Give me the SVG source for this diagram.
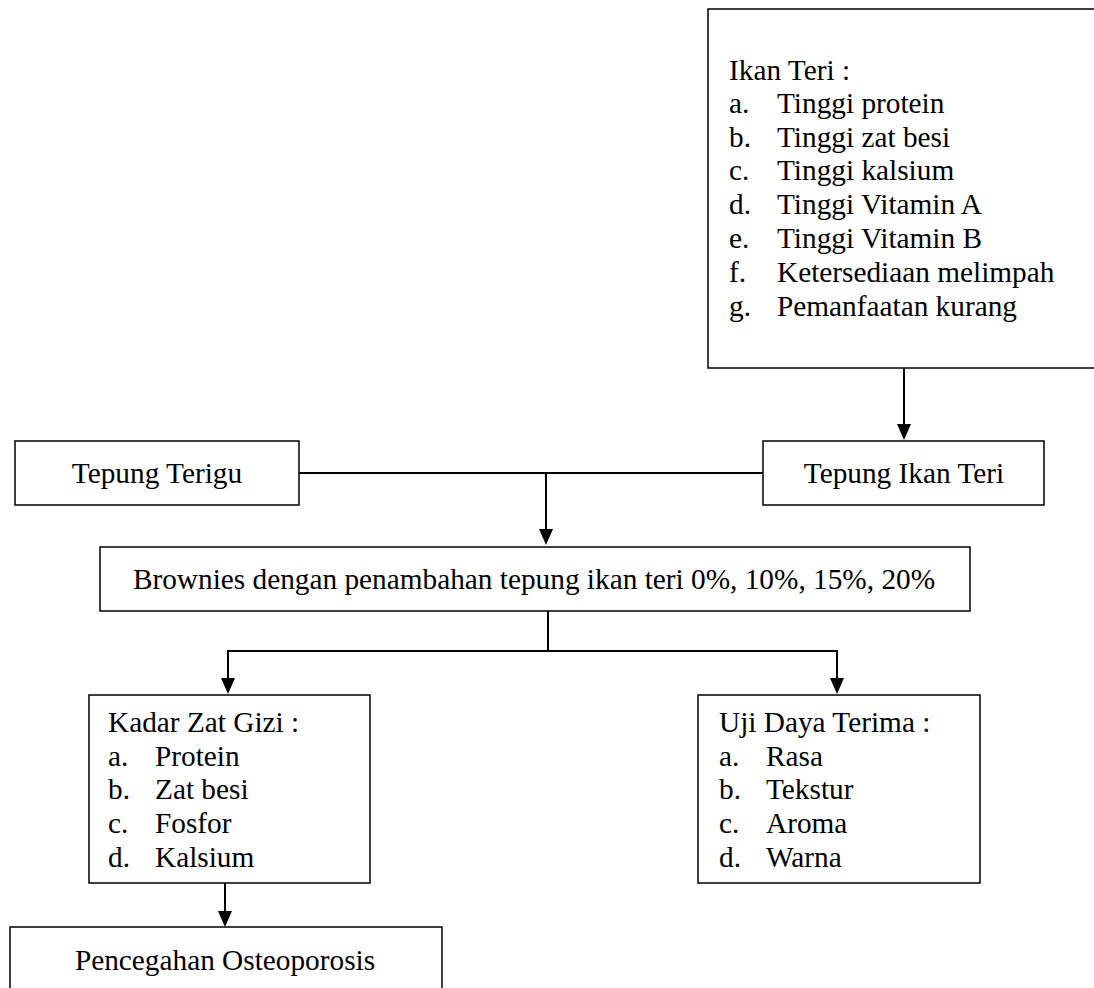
<svg xmlns="http://www.w3.org/2000/svg" width="1094" height="988" viewBox="0 0 1094 988">
<defs>
<style>
.box{fill:#fff;stroke:#000;stroke-width:1.5}
.t{font-size:29.3px;fill:#000}
.c{text-anchor:middle}
.ln{fill:none;stroke:#000;stroke-width:2}
</style>
</defs>
<rect width="1094" height="988" fill="#fff"/>
<g id="connectors">
<line class="ln" x1="904" y1="368" x2="904" y2="425"/>
<line class="ln" x1="299" y1="473" x2="763" y2="473"/>
<line class="ln" x1="546" y1="473" x2="546" y2="530"/>
<line class="ln" x1="548" y1="611" x2="548" y2="651"/>
<polyline class="ln" points="228,679 228,651 837,651 837,679"/>
<line class="ln" x1="225" y1="883" x2="225" y2="912"/>
<path d="M897,424 L911,424 L904,440 Z"/>
<path d="M539,529 L553,529 L546,545 Z"/>
<path d="M221,678 L235,678 L228,694 Z"/>
<path d="M830,678 L844,678 L837,694 Z"/>
<path d="M218,911 L232,911 L225,927 Z"/>
</g>
<g font-family="Liberation Serif, DejaVu Serif, serif">
<g id="ikan-teri">
<rect class="box" x="708" y="9" width="400" height="359"/>
<text class="t" x="729" y="80">Ikan Teri :</text>
<text class="t" x="729" y="113">a.</text><text class="t" x="777" y="113">Tinggi protein</text>
<text class="t" x="729" y="147">b.</text><text class="t" x="777" y="147">Tinggi zat besi</text>
<text class="t" x="729" y="180">c.</text><text class="t" x="777" y="180">Tinggi kalsium</text>
<text class="t" x="729" y="214">d.</text><text class="t" x="777" y="214">Tinggi Vitamin A</text>
<text class="t" x="729" y="248">e.</text><text class="t" x="777" y="248">Tinggi Vitamin B</text>
<text class="t" x="729" y="282">f.</text><text class="t" x="777" y="282">Ketersediaan melimpah</text>
<text class="t" x="729" y="316">g.</text><text class="t" x="777" y="316">Pemanfaatan kurang</text>
</g>
<g id="tepung-terigu">
<rect class="box" x="15" y="441" width="284" height="64"/>
<text class="t c" x="157" y="483">Tepung Terigu</text>
</g>
<g id="tepung-ikan-teri">
<rect class="box" x="763" y="441" width="281" height="64"/>
<text class="t c" x="904" y="483">Tepung Ikan Teri</text>
</g>
<g id="brownies">
<rect class="box" x="100" y="547" width="870" height="64"/>
<text class="t c" x="534" y="589">Brownies dengan penambahan tepung ikan teri 0%, 10%, 15%, 20%</text>
</g>
<g id="kadar-zat-gizi">
<rect class="box" x="89" y="695" width="281" height="188"/>
<text class="t" x="108" y="732">Kadar Zat Gizi :</text>
<text class="t" x="108" y="766">a.</text><text class="t" x="155" y="766">Protein</text>
<text class="t" x="108" y="799">b.</text><text class="t" x="155" y="799">Zat besi</text>
<text class="t" x="108" y="833">c.</text><text class="t" x="155" y="833">Fosfor</text>
<text class="t" x="108" y="867">d.</text><text class="t" x="155" y="867">Kalsium</text>
</g>
<g id="uji-daya-terima">
<rect class="box" x="698" y="695" width="282" height="188"/>
<text class="t" x="719" y="732">Uji Daya Terima :</text>
<text class="t" x="719" y="766">a.</text><text class="t" x="766" y="766">Rasa</text>
<text class="t" x="719" y="799">b.</text><text class="t" x="766" y="799">Tekstur</text>
<text class="t" x="719" y="833">c.</text><text class="t" x="766" y="833">Aroma</text>
<text class="t" x="719" y="867">d.</text><text class="t" x="766" y="867">Warna</text>
</g>
<g id="pencegahan">
<rect class="box" x="10" y="927" width="432" height="80"/>
<text class="t c" x="225" y="970">Pencegahan Osteoporosis</text>
</g>
</g>
</svg>
